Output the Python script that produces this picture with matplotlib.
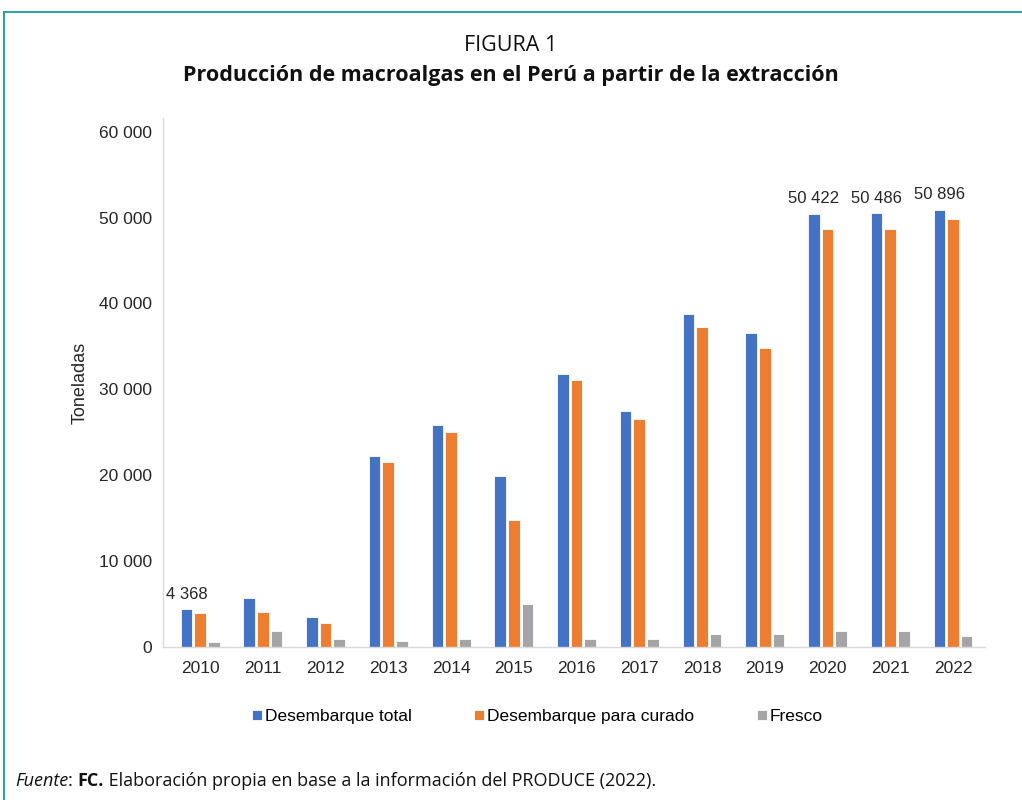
import numpy as np
import matplotlib
matplotlib.use("Agg")
from matplotlib import pyplot as plt
from matplotlib.lines import Line2D
from matplotlib.ticker import FuncFormatter

## data (toneladas)
years = ["2010", "2011", "2012", "2013", "2014", "2015", "2016",
         "2017", "2018", "2019", "2020", "2021", "2022"]
total = [4368, 5760, 3500, 22260, 25800, 19890, 31820,
         27510, 38740, 36530, 50422, 50486, 50896]
curado = [3930, 4080, 2800, 21490, 25060, 14770, 31050,
          26570, 37230, 34810, 48680, 48680, 49810]
fresco = [550, 1830, 900, 700, 900, 5060, 900,
          900, 1480, 1480, 1830, 1830, 1250]
labelled = ["2010", "2020", "2021", "2022"]

series_names = ["Desembarque total", "Desembarque para curado", "Fresco"]
colors = ["#4472C4", "#ED7D31", "#A5A5A5"]

plt.rcParams['font.family'] = ['Liberation Sans', 'DejaVu Sans']

fig = plt.figure(figsize=(10.22, 8), dpi=100)
ax = fig.add_axes([0.1595, 0.19125, 0.8043, 0.6613])

x = np.arange(len(years))
step = 0.218
bw = 0.185
bars = []
for k, (vals, c) in enumerate(zip([total, curado, fresco], colors)):
    b = ax.bar(x + (k - 1) * step, vals, width=bw, color=c,
               edgecolor="white", linewidth=0.6, label=series_names[k])
    bars.append(b)

# data labels on a few of the blue bars
for i, yr in enumerate(years):
    if yr in labelled:
        ax.text(x[i] - step, total[i] + 900, f"{total[i]:,}".replace(",", " "),
                ha="center", va="bottom", fontsize=12, color="#262626")

ax.set_xlim(-0.59, 12.51)
ax.set_ylim(0, 61600)
ax.set_yticks(range(0, 60001, 10000))
ax.yaxis.set_major_formatter(FuncFormatter(lambda v, p: f"{int(v):,}".replace(",", " ")))
ax.set_xticks(x)
ax.set_xticklabels(years)
ax.tick_params(axis="both", length=0, labelsize=12.5, labelcolor="#262626")
ax.tick_params(axis="x", pad=10)
ax.tick_params(axis="y", pad=8)
for s in ["top", "right"]:
    ax.spines[s].set_visible(False)
for s in ["left", "bottom"]:
    ax.spines[s].set_color("#d9d9d9")
    ax.spines[s].set_linewidth(1.0)
ax.set_ylabel("Toneladas", fontsize=13, color="#262626", labelpad=7)

fig.legend(handles=bars, labels=series_names, loc="center", ncol=3,
           bbox_to_anchor=(0.526, 0.104), frameon=False, fontsize=12.5,
           handlelength=0.55, handleheight=0.55, handletextpad=0.2,
           columnspacing=3.6)

# titles
fig.text(0.5, 0.943, "FIGURA 1", ha="center", va="center",
         fontsize=15.5, family="Open Sans", color="#111111")
fig.text(0.5, 0.906, "Producción de macroalgas en el Perú a partir de la extracción",
         ha="center", va="center", fontsize=15.5, family="Open Sans",
         fontweight="bold", color="#111111")

# source line, pieces with different styles
fig.canvas.draw()
r = fig.canvas.get_renderer()
xpos = 15 / 1022
pieces = [("Fuente", "italic", "normal"), (": ", "normal", "normal"),
          ("FC.", "normal", "bold"),
          (" Elaboración propia en base a la información del PRODUCE (2022).", "normal", "normal")]
for txt, st, wt in pieces:
    t = fig.text(xpos, 0.024, txt, ha="left", va="center", fontsize=13,
                 family="Open Sans", style=st, fontweight=wt, color="#111111")
    bb = t.get_window_extent(renderer=r)
    xpos += bb.width / fig.bbox.width

# teal frame (top and left edges)
fig.add_artist(Line2D([4 / 1022, 1.0], [1 - 12 / 800, 1 - 12 / 800],
                      transform=fig.transFigure, color="#1e9a9c", linewidth=1.3))
fig.add_artist(Line2D([4 / 1022, 4 / 1022], [0.0, 1 - 12 / 800],
                      transform=fig.transFigure, color="#1e9a9c", linewidth=1.3))

fig.savefig("out.png", dpi=100)
